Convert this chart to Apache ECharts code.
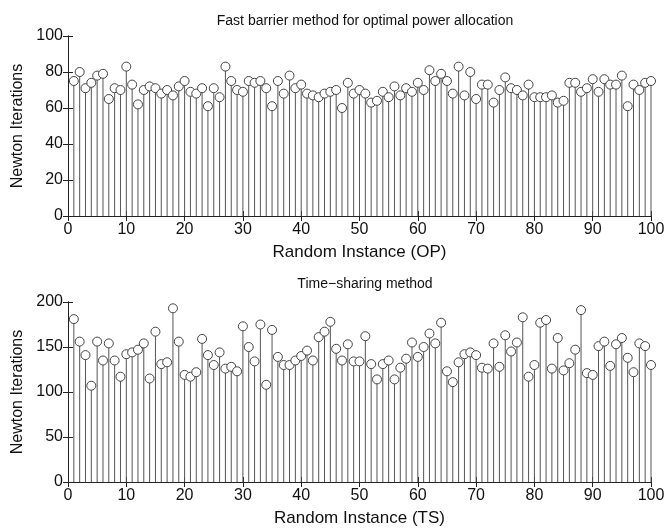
<!DOCTYPE html>
<html>
<head>
<meta charset="utf-8">
<script src="https://cdn.jsdelivr.net/npm/echarts@6/dist/echarts.min.js"></script>
<style>
  html, body { margin: 0; padding: 0; background: #fff; }
  #chart { width: 668px; height: 529px; }
</style>
</head>
<body>
<div id="chart"></div>
<script>
// instance numbers 1..100
const instances = Array.from({ length: 100 }, (_, i) => i + 1);

// Newton iterations, fast barrier method (OP)
const opIters = [
  75, 80, 71, 74, 78, 79, 65, 71, 70, 83,
  73, 62, 70, 72, 71, 68, 70, 67, 72, 75,
  69, 68, 71, 61, 71, 66, 83, 75, 70, 69,
  75, 74, 75, 71, 61, 75, 68, 78, 71, 73,
  68, 67, 66, 68, 69, 70, 60, 74, 68, 70,
  68, 63, 64, 69, 66, 72, 67, 71, 69, 74,
  70, 81, 75, 79, 75, 68, 83, 67, 80, 65,
  73, 73, 63, 70, 77, 71, 70, 67, 73, 66,
  66, 66, 67, 63, 64, 74, 74, 69, 71, 76,
  69, 76, 73, 73, 78, 61, 73, 70, 74, 75
];

// Newton iterations, time-sharing method (TS)
const tsIters = [
  181, 156, 141, 107, 156, 135, 154, 135, 117, 142,
  144, 147, 154, 115, 167, 131, 133, 193, 156, 119,
  117, 122, 159, 141, 130, 144, 126, 128, 123, 173,
  150, 134, 175, 108, 169, 139, 130, 130, 135, 140,
  146, 135, 161, 167, 178, 148, 135, 153, 134, 134,
  162, 131, 114, 131, 135, 114, 127, 137, 155, 139,
  150, 165, 154, 177, 123, 111, 133, 142, 144, 141,
  127, 126, 154, 128, 163, 145, 155, 183, 117, 130,
  177, 180, 126, 160, 124, 132, 147, 191, 121, 119,
  151, 156, 129, 153, 160, 138, 122, 154, 151, 130
];

const titles = ['Fast barrier method for optimal power allocation', 'Time\u2212sharing method'];
const xNames = ['Random Instance (OP)', 'Random Instance (TS)'];
const yMax = [100, 200];
const yStep = [20, 50];

const font = '"Liberation Sans", Arial, sans-serif';
const axisColor = '#222';
const stemColor = '#555';

const chart = echarts.init(document.getElementById('chart'));

const gridTops = [36, 302];
const xAxes = [];
const yAxes = [];
const series = [];

[opIters, tsIters].forEach((vals, g) => {
  const pairs = instances.map((x, i) => [x, vals[i]]);

  // bottom x axis with labels
  xAxes.push({
    type: 'value', gridIndex: g, min: 0, max: 100, interval: 10,
    name: xNames[g], nameLocation: 'middle', nameGap: 28,
    nameTextStyle: { fontFamily: font, fontSize: 17, color: '#111' },
    axisLine: { lineStyle: { color: axisColor } },
    axisTick: { inside: true, length: 5, lineStyle: { color: axisColor } },
    axisLabel: { fontFamily: font, fontSize: 16, color: '#111', margin: 6 },
    splitLine: { show: false }
  });
  // top box edge
  xAxes.push({
    type: 'value', gridIndex: g, position: 'top', min: 0, max: 100, interval: 10,
    axisLine: { lineStyle: { color: axisColor } },
    axisTick: { inside: true, length: 5, lineStyle: { color: axisColor } },
    axisLabel: { show: false }, splitLine: { show: false }
  });
  yAxes.push({
    type: 'value', gridIndex: g, min: 0, max: yMax[g], interval: yStep[g],
    name: 'Newton Iterations', nameLocation: 'middle', nameGap: 32,
    nameTextStyle: { fontFamily: font, fontSize: 16, color: '#111' },
    axisLine: { show: true, lineStyle: { color: axisColor } },
    axisTick: { show: true, inside: true, length: 5, lineStyle: { color: axisColor } },
    axisLabel: { fontFamily: font, fontSize: 16, color: '#111', margin: 5 },
    splitLine: { show: false }
  });
  // right box edge
  yAxes.push({
    type: 'value', gridIndex: g, position: 'right', min: 0, max: yMax[g], interval: yStep[g],
    axisLine: { show: true, lineStyle: { color: axisColor } },
    axisTick: { show: true, inside: true, length: 5, lineStyle: { color: axisColor } },
    axisLabel: { show: false }, splitLine: { show: false }
  });

  // stems
  series.push({
    type: 'custom', xAxisIndex: g * 2, yAxisIndex: g * 2,
    data: pairs,
    renderItem: (params, api) => {
      const p0 = api.coord([api.value(0), 0]);
      const p1 = api.coord([api.value(0), api.value(1)]);
      return {
        type: 'line',
        shape: { x1: p0[0], y1: p0[1], x2: p1[0], y2: p1[1] },
        style: { stroke: stemColor, lineWidth: 1 }
      };
    },
    z: 2
  });
  // circles on top
  series.push({
    type: 'scatter', xAxisIndex: g * 2, yAxisIndex: g * 2,
    data: pairs,
    symbol: 'circle', symbolSize: 9,
    itemStyle: { color: '#fff', borderColor: '#444', borderWidth: 1, opacity: 1 },
    z: 3
  });
});

const option = {
  backgroundColor: '#fff',
  animation: false,
  title: [
    { text: titles[0], left: 360, textAlign: 'center', top: 9,
      textStyle: { fontFamily: font, fontSize: 14, fontWeight: 'normal', color: '#111' } },
    { text: titles[1], left: 360, textAlign: 'center', top: 272,
      textStyle: { fontFamily: font, fontSize: 14, fontWeight: 'normal', color: '#111' } }
  ],
  grid: [
    { left: 68, right: 17, top: gridTops[0], height: 180 },
    { left: 68, right: 17, top: gridTops[1], height: 180 }
  ],
  xAxis: xAxes,
  yAxis: yAxes,
  series: series
};

chart.setOption(option);
</script>
</body>
</html>
